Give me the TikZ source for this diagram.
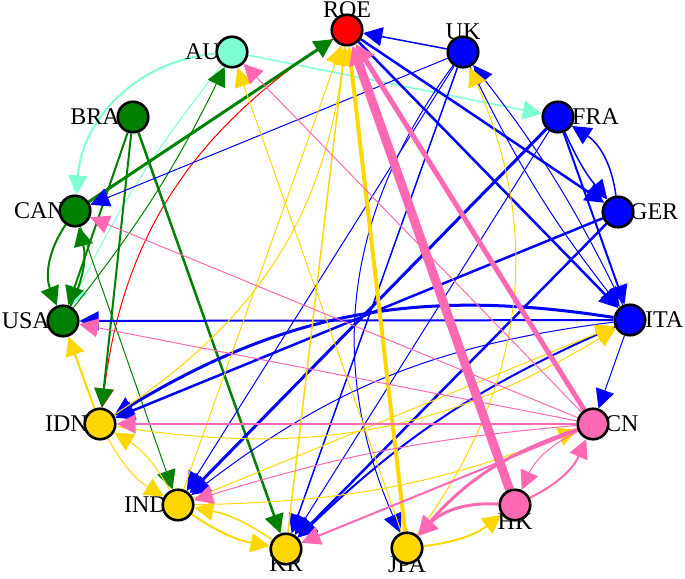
\documentclass[tikz,border=0pt]{standalone}
\usepackage{fontspec}
\setmainfont{Liberation Serif}
\usetikzlibrary{arrows.meta}
\definecolor{cAqua}{RGB}{127,255,212}
\definecolor{cGreen}{RGB}{0,128,0}
\definecolor{cBlue}{RGB}{0,0,255}
\definecolor{cRed}{RGB}{255,0,0}
\definecolor{cGold}{RGB}{255,215,0}
\definecolor{cPink}{RGB}{255,105,180}
\pgfdeclarelayer{edgelayer}
\pgfdeclarelayer{labellayer}
\pgfsetlayers{edgelayer,labellayer,main}
\begin{document}
\begin{tikzpicture}[x=1pt,y=1pt,
  vtx/.style={circle,draw=black,line width=2.6pt,minimum size=30.5pt,inner sep=0pt},
  lbl/.style={font=\fontsize{24}{24}\selectfont,inner sep=0pt,text=black},
  e/.style={-{Triangle[length=19pt,width=19pt]},line width=#1},
]
\useasboundingbox (0,0) rectangle (685,-578);
% nodes
\node[vtx,fill=cRed]   (ROE) at (347,-30) {};
\node[vtx,fill=cBlue]  (UK)  at (463,-52) {};
\node[vtx,fill=cAqua]  (AU)  at (232,-52) {};
\node[vtx,fill=cBlue]  (FRA) at (558,-117) {};
\node[vtx,fill=cGreen] (BRA) at (133,-117) {};
\node[vtx,fill=cBlue]  (GER) at (618,-212) {};
\node[vtx,fill=cGreen] (CAN) at (75,-211) {};
\node[vtx,fill=cGreen] (USA) at (63,-321) {};
\node[vtx,fill=cBlue]  (ITA) at (630,-320) {};
\node[vtx,fill=cGold]  (IDN) at (100,-424) {};
\node[vtx,fill=cPink]  (CN)  at (593,-424) {};
\node[vtx,fill=cGold]  (IND) at (178,-505) {};
\node[vtx,fill=cPink]  (HK)  at (515,-505) {};
\node[vtx,fill=cGold]  (KR)  at (286,-549) {};
\node[vtx,fill=cGold]  (JPA) at (407,-548) {};
% labels
\begin{pgfonlayer}{labellayer}
\node[lbl,anchor=base]  (lROE) at ([yshift=12pt]ROE.center) {ROE};
\node[lbl,anchor=base]  (lUK)  at ([yshift=12pt]UK.center) {UK};
\node[lbl,anchor=east]  (lAU)  at ([xshift=-12pt]AU.center) {AU};
\node[lbl,anchor=east]  (lBRA) at ([xshift=-13pt]BRA.center) {BRA};
\node[lbl,anchor=east]  (lCAN) at ([xshift=-10pt]CAN.center) {CAN};
\node[lbl,anchor=east]  (lUSA) at ([xshift=-13pt]USA.center) {USA};
\node[lbl,anchor=east]  (lIDN) at ([xshift=-12pt]IDN.center) {IDN};
\node[lbl,anchor=east]  (lIND) at ([xshift=-11pt]IND.center) {IND};
\node[lbl,anchor=west]  (lFRA) at ([xshift=14pt]FRA.center) {FRA};
\node[lbl,anchor=west]  (lGER) at ([xshift=12pt]GER.center) {GER};
\node[lbl,anchor=west]  (lITA) at ([xshift=15pt]ITA.center) {ITA};
\node[lbl,anchor=west]  (lCN)  at ([xshift=12pt]CN.center) {CN};
\node[lbl,anchor=north] (lKR)  at ([yshift=-7pt]KR.center) {KR};
\node[lbl,anchor=north] (lJPA) at ([yshift=-8pt]JPA.center) {JPA};
\node[lbl,anchor=north] (lHK)  at ([yshift=-9pt]HK.center) {HK};
\end{pgfonlayer}
% edges
\begin{pgfonlayer}{edgelayer}
% aquamarine
\draw[e=1.5pt,cAqua] (AU) to (FRA);
\draw[e=2pt,cAqua] (AU) to[bend right=40] (CAN);
\draw[e=1pt,cAqua] (AU) to[bend right=6] (USA);
% red
\draw[e=1pt,cRed] (ROE) to[bend right=25] (IDN);
% green
\draw[e=2.5pt,cGreen] (BRA) to (KR);
\draw[e=2pt,cGreen] (BRA) to (USA);
\draw[e=2pt,cGreen] (BRA) to (IDN);
\draw[e=3pt,cGreen] (CAN) to (ROE);
\draw[e=2pt,cGreen] (CAN) to[bend right=28] (USA);
\draw[e=2pt,cGreen] (USA) to[bend right=20] (CAN);
\draw[e=1pt,cGreen] (CAN) to (IND);
\draw[e=1pt,cGreen] (USA) to[bend right=6] (AU);
% blue
\draw[e=1.5pt,cBlue] (UK) to (ROE);
\draw[e=1pt,cBlue] (UK) to (CAN);
\draw[e=1pt,cBlue] (UK) to[bend right=6] (ITA);
\draw[e=1pt,cBlue] (ITA) to[bend right=6] (UK);
\draw[e=1.5pt,cBlue] (UK) to (KR);
\draw[e=1pt,cBlue] (UK) to (IND);
\draw[e=1pt,cBlue] (UK) to[bend right=30] (JPA);
\draw[e=2.5pt,cBlue] (ROE) to (GER);
\draw[e=2.5pt,cBlue] (ROE) to (ITA);
\draw[e=1.5pt,cBlue] (FRA) to[bend right=8] (GER);
\draw[e=1.5pt,cBlue] (GER) to[bend right=25] (FRA);
\draw[e=2pt,cBlue] (FRA) to (ITA);
\draw[e=3pt,cBlue] (FRA) to (IND);
\draw[e=1pt,cBlue] (FRA) to (KR);
\draw[e=2.5pt,cBlue] (GER) to (IDN);
\draw[e=2.5pt,cBlue] (GER) to (KR);
\draw[e=2pt,cBlue] (ITA) to (USA);
\draw[e=3pt,cBlue] (ITA) to[bend right=20] (IDN);
\draw[e=1pt,cBlue] (ITA) to (CN);
\draw[e=2pt,cBlue] (ITA) to[bend right=10] (KR);
\draw[e=1pt,cBlue] (ITA) to[bend right=15] (IND);
% gold
\draw[e=1pt,cGold] (IND) to (ROE);
\draw[e=1.5pt,cGold] (KR) to (ROE);
\draw[e=1pt,cGold] (IDN) to[bend right=25] (ROE);
\draw[e=1pt,cGold] (JPA) to (AU);
\draw[e=1pt,cGold] (JPA) to[bend right=30] (UK);
\draw[e=1pt,cGold] (IND) to (ITA);
\draw[e=1pt,cGold] (IDN) to[bend right=20] (ITA);
\draw[e=2pt,cGold] (IDN) to (USA);
\draw[e=1pt,cGold] (IDN) to[bend right=15] (IND);
\draw[e=1pt,cGold] (IND) to[bend right=15] (IDN);
\draw[e=2pt,cGold] (IND) to[bend right=12] (KR);
\draw[e=1.5pt,cGold] (KR) to[bend right=12] (IND);
\draw[e=2pt,cGold] (JPA) to[bend right=15] (HK);
\draw[e=1pt,cGold] (IND) to[bend right=10] (CN);
\draw[e=4pt,cGold] (JPA) to (ROE);
% pink
\draw[e=1pt,cPink] (CN) to (AU);
\draw[e=1pt,cPink] (CN) to (CAN);
\draw[e=1pt,cPink] (CN) to (USA);
\draw[e=2pt,cPink] (CN) to (IDN);
\draw[e=1pt,cPink] (CN) to[bend right=6] (IND);
\draw[e=2pt,cPink] (CN) to (KR);
\draw[e=3pt,cPink] (CN) to[bend right=15] (JPA);
\draw[e=1pt,cPink] (CN) to[bend right=20] (HK);
\draw[e=2pt,cPink] (HK) to[bend right=20] (CN);
\draw[e=3pt,cPink] (HK) to[bend right=25] (JPA);
\draw[e=5pt,cPink] (CN) to (ROE);
\draw[e=9pt,cPink] (HK) to (ROE);
\end{pgfonlayer}
\end{tikzpicture}
\end{document}
